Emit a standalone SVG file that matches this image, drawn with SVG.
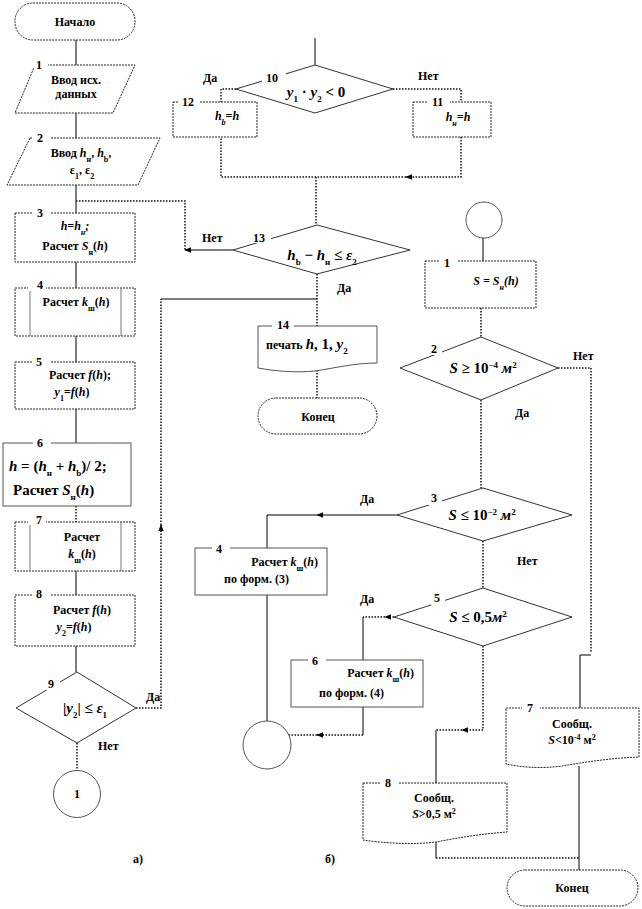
<svg xmlns="http://www.w3.org/2000/svg" width="642" height="909" viewBox="0 0 642 909">
<style>
text{font-family:"Liberation Serif","Times New Roman",serif;font-weight:bold;font-size:12px;fill:#000}
.c{text-anchor:middle}
.n{font-size:12px}
.f{font-size:15px}
.i{font-style:italic}
.box{fill:#fff;stroke:#222;stroke-width:1;stroke-dasharray:2 1}
.sbox{fill:#fff;stroke:#555;stroke-width:1}
.dia{fill:#fff;stroke:#333;stroke-width:1}
.in{stroke:#777;stroke-width:1}
.ln{fill:none;stroke:#000;stroke-width:1}
.dt{fill:none;stroke:#111;stroke-width:1.5;stroke-dasharray:1.5 1.5}
.gap{fill:#fff}
</style>
<defs>
<marker id="ah" viewBox="0 0 10 10" refX="9" refY="5" markerWidth="7" markerHeight="7" markerUnits="userSpaceOnUse" orient="auto"><path d="M0,1 L10,5 L0,9 z" fill="#000"/></marker>
</defs>

<g id="connectors">
<path class="ln" d="M76,40 V65"/>
<path class="ln" d="M76,113 V138"/>
<path class="ln" d="M76,185 V213"/>
<path class="dt" d="M76,201 H185 V250"/>
<path class="ln" d="M233,250 H185" marker-end="url(#ah)"/>
<path class="ln" d="M76,262 V288"/>
<path class="ln" d="M76,336 V362"/>
<path class="ln" d="M76,409 V443"/>
<path class="dt" d="M76,506 V522"/>
<path class="ln" d="M76,571 V595"/>
<path class="ln" d="M76,646 V672"/>
<path class="dt" d="M77,743 V770"/>
<path class="dt" d="M136,708 H161 V525" marker-end="url(#ah)"/>
<path class="dt" d="M161,525 V299"/>
<path class="ln" d="M161,299 H317"/>

<path class="ln" d="M315,38 V65"/>
<path class="dt" d="M236,89 H221 V102"/>
<path class="dt" d="M393,89 H461 V102"/>
<path class="dt" d="M461,137 V177 H406" marker-end="url(#ah)"/>
<path class="dt" d="M406,177 H221 V137"/>
<path class="dt" d="M316,177 V225"/>
<path class="dt" d="M317,274 V326"/>
<path class="dt" d="M317,370 V398"/>

<path class="ln" d="M483,238 V261"/>
<path class="dt" d="M481,308 V337"/>
<path class="dt" d="M558,368 H591 V653"/>
<path class="ln" d="M591,655 H580 V708"/>
<path class="dt" d="M481,400 V488"/>
<path class="ln" d="M397,515 H317" marker-end="url(#ah)"/>
<path class="ln" d="M317,515 H267 V548"/>
<path class="dt" d="M483,541 V588"/>
<path class="dt" d="M394,617 H385" marker-end="url(#ah)"/>
<path class="dt" d="M385,617 H363"/>
<path class="ln" d="M363,617 V660"/>
<path class="ln" d="M363,707 V735"/>
<path class="dt" d="M363,735 H317" marker-end="url(#ah)"/>
<path class="dt" d="M317,735 H267"/>
<path class="ln" d="M267,595 V721"/>
<path class="dt" d="M483,646 V730 H462" marker-end="url(#ah)"/>
<path class="dt" d="M462,730 H436"/>
<path class="ln" d="M436,730 V783"/>
<path class="ln" d="M436,841 V858"/>
<path class="dt" d="M436,858 H579"/>
<path class="ln" d="M579,766 V870"/>
</g>

<g id="start">
<rect class="box" x="15" y="3" width="120" height="37" rx="18"/>
<text class="c" x="75" y="26">Начало</text>
</g>

<g id="n1">
<polygon class="box" points="35,65 135,65 113,113 15,113"/>
<rect class="gap" x="32" y="62" width="16" height="6"/>
<text class="n" x="36" y="69">1</text>
<text class="c" x="76" y="84">Ввод исх.</text>
<text class="c" x="76" y="98">данных</text>
</g>

<g id="n2">
<polygon class="box" points="30,138 160,138 138,185 7,185"/>
<rect class="gap" x="32" y="135" width="18" height="6"/>
<text class="n" x="37" y="142">2</text>
<text class="c" x="81" y="157">Ввод  <tspan class="i">h</tspan><tspan font-size="8" baseline-shift="sub">н</tspan>, <tspan class="i">h</tspan><tspan font-size="8" baseline-shift="sub">b</tspan>,</text>
<text class="c" x="82" y="174">ε<tspan font-size="8" baseline-shift="sub">1</tspan>, ε<tspan font-size="8" baseline-shift="sub">2</tspan></text>
</g>

<g id="n3">
<rect class="box" x="15" y="213" width="120" height="49"/>
<rect class="gap" x="33" y="210" width="18" height="6"/>
<text class="n" x="37" y="217">3</text>
<text class="c i" x="75" y="230">h=h<tspan font-size="8" baseline-shift="sub">н</tspan>;</text>
<text class="c" x="75" y="250">Расчет <tspan class="i">S</tspan><tspan font-size="8" baseline-shift="sub">н</tspan>(<tspan class="i">h</tspan>)</text>
</g>

<g id="n4">
<rect class="box" x="15" y="288" width="120" height="48"/>
<line class="in" x1="30" y1="288" x2="30" y2="336"/>
<line class="in" x1="121" y1="288" x2="121" y2="336"/>
<rect class="gap" x="28" y="285" width="18" height="6"/>
<text class="n" x="37" y="289">4</text>
<text class="c" x="76" y="306">Расчет <tspan class="i">k</tspan><tspan font-size="8" baseline-shift="sub">ш</tspan>(<tspan class="i">h</tspan>)</text>
</g>

<g id="n5">
<rect class="box" x="15" y="362" width="120" height="47"/>
<rect class="gap" x="32" y="359" width="18" height="6"/>
<text class="n" x="36" y="366">5</text>
<text class="c" x="80" y="379">Расчет <tspan class="i">f</tspan>(<tspan class="i">h</tspan>);</text>
<text class="c" x="72" y="396"><tspan class="i">y</tspan><tspan font-size="8" baseline-shift="sub">1</tspan>=<tspan class="i">f</tspan>(<tspan class="i">h</tspan>)</text>
</g>

<g id="n6">
<rect class="sbox" x="3" y="443" width="128" height="63"/>
<rect class="gap" x="33" y="440" width="18" height="6"/>
<text class="n" x="37" y="447">6</text>
<text class="f" x="9" y="471"><tspan class="i">h</tspan> = (<tspan class="i">h</tspan><tspan font-size="9" baseline-shift="sub">н</tspan> + <tspan class="i">h</tspan><tspan font-size="9" baseline-shift="sub">b</tspan>)/ 2;</text>
<text class="f" x="13" y="495">Расчет <tspan class="i">S</tspan><tspan font-size="9" baseline-shift="sub">н</tspan>(<tspan class="i">h</tspan>)</text>
</g>

<g id="n7">
<rect class="box" x="15" y="522" width="120" height="49"/>
<line class="in" x1="30" y1="522" x2="30" y2="571"/>
<line class="in" x1="121" y1="522" x2="121" y2="571"/>
<rect class="gap" x="28" y="519" width="18" height="6"/>
<text class="n" x="36" y="524">7</text>
<text class="c" x="82" y="541">Расчет</text>
<text class="c" x="82" y="558"><tspan class="i">k</tspan><tspan font-size="8" baseline-shift="sub">ш</tspan>(<tspan class="i">h</tspan>)</text>
</g>

<g id="n8">
<rect class="box" x="15" y="595" width="120" height="51"/>
<rect class="gap" x="32" y="592" width="18" height="6"/>
<text class="n" x="36" y="598">8</text>
<text class="c" x="82" y="614">Расчет <tspan class="i">f</tspan>(<tspan class="i">h</tspan>)</text>
<text class="c" x="74" y="631"><tspan class="i">y</tspan><tspan font-size="8" baseline-shift="sub">2</tspan>=<tspan class="i">f</tspan>(<tspan class="i">h</tspan>)</text>
</g>

<g id="n9">
<polygon class="dia" points="77,672 136,708 77,743 16,708"/>
<rect class="gap" x="44" y="676" width="16" height="14"/>
<text class="n" x="48" y="688">9</text>
<text class="c f" x="85" y="713">|<tspan class="i">y</tspan><tspan font-size="9" baseline-shift="sub">2</tspan>| ≤ <tspan class="i">ε</tspan><tspan font-size="9" baseline-shift="sub">1</tspan></text>
<text x="146" y="701">Да</text>
<text x="98" y="750">Нет</text>
</g>

<g id="c1">
<circle class="sbox" cx="77" cy="794" r="23.5"/>
<text class="c n" x="77" y="798">1</text>
</g>

<g id="n10">
<polygon class="dia" points="315,65 393,89 315,113 236,89"/>
<rect class="gap" x="262" y="70" width="24" height="13"/>
<text class="n" x="266" y="82">10</text>
<text class="c f" x="316" y="97"><tspan class="i">y</tspan><tspan font-size="9" baseline-shift="sub">1</tspan> · <tspan class="i">y</tspan><tspan font-size="9" baseline-shift="sub">2</tspan> &lt; 0</text>
<text x="203" y="82">Да</text>
<text x="418" y="80">Нет</text>
</g>

<g id="n12">
<rect class="box" x="173" y="102" width="84" height="35"/>
<rect class="gap" x="178" y="99" width="22" height="6"/>
<text class="n" x="182" y="106">12</text>
<text class="c i" x="227" y="120">h<tspan font-size="8" baseline-shift="sub">b</tspan>=h</text>
</g>

<g id="n11">
<rect class="box" x="413" y="102" width="78" height="35"/>
<rect class="gap" x="428" y="99" width="22" height="6"/>
<text class="n" x="432" y="106">11</text>
<text class="c i" x="458" y="121">h<tspan font-size="8" baseline-shift="sub">н</tspan>=h</text>
</g>

<g id="n13">
<polygon class="dia" points="317,225 410,250 317,274 233,250"/>
<rect class="gap" x="249" y="230" width="22" height="13"/>
<text class="n" x="253" y="242">13</text>
<text class="c f" x="322" y="260"><tspan class="i">h</tspan><tspan font-size="9" baseline-shift="sub">b</tspan> − <tspan class="i">h</tspan><tspan font-size="9" baseline-shift="sub">н</tspan> ≤ <tspan class="i">ε</tspan><tspan font-size="9" baseline-shift="sub">2</tspan></text>
<text x="202" y="242">Нет</text>
<text x="337" y="292">Да</text>
</g>

<g id="n14">
<path class="sbox" d="M258,326 H377 V363 C355,363 335,368 315,371 C295,373 275,371 258,368 Z"/>
<rect class="gap" x="272" y="323" width="22" height="6"/>
<text class="n" x="277" y="329">14</text>
<text x="266" y="349">печать <tspan class="f i">h</tspan><tspan class="f">, 1, </tspan><tspan class="f i">y</tspan><tspan font-size="9" baseline-shift="sub">2</tspan></text>
</g>

<g id="end1">
<rect class="box" x="258" y="398" width="119" height="36" rx="18"/>
<text class="c" x="318" y="421">Конец</text>
</g>

<g id="cb">
<circle class="sbox" cx="484" cy="220" r="18"/>
</g>

<g id="b1">
<rect class="box" x="425" y="261" width="111" height="47"/>
<rect class="gap" x="440" y="258" width="18" height="6"/>
<text class="n" x="444" y="267">1</text>
<text class="c i" x="496" y="285" font-size="13">S = S<tspan font-size="8" baseline-shift="sub">н</tspan>(h)</text>
</g>

<g id="b2">
<polygon class="dia" points="481,337 558,368 481,400 400,368"/>
<rect class="gap" x="428" y="341" width="14" height="14"/>
<text class="n" x="431" y="353">2</text>
<text class="c f" x="483" y="373"><tspan class="i">S</tspan> ≥ 10<tspan font-size="9" baseline-shift="super">−4</tspan> <tspan class="i">м</tspan><tspan font-size="9" baseline-shift="super">2</tspan></text>
<text x="573" y="360">Нет</text>
<text x="515" y="417">Да</text>
</g>

<g id="b3">
<polygon class="dia" points="483,488 572,515 483,541 397,515"/>
<rect class="gap" x="428" y="491" width="14" height="14"/>
<text class="n" x="431" y="502">3</text>
<text class="c f" x="482" y="520"><tspan class="i">S</tspan> ≤ 10<tspan font-size="9" baseline-shift="super">−2</tspan> <tspan class="i">м</tspan><tspan font-size="9" baseline-shift="super">2</tspan></text>
<text x="360" y="503">Да</text>
<text x="517" y="565">Нет</text>
</g>

<g id="b4">
<rect class="sbox" x="195" y="548" width="132" height="47"/>
<rect class="gap" x="212" y="545" width="18" height="6"/>
<text class="n" x="216" y="553">4</text>
<text x="318" y="566" text-anchor="end">Расчет <tspan class="i">k</tspan><tspan font-size="8" baseline-shift="sub">ш</tspan>(<tspan class="i">h</tspan>)</text>
<text x="224" y="583">по форм. (3)</text>
</g>

<g id="b5">
<polygon class="dia" points="483,588 572,617 483,646 394,617"/>
<rect class="gap" x="431" y="591" width="14" height="14"/>
<text class="n" x="434" y="602">5</text>
<text class="c f" x="478" y="622"><tspan class="i">S</tspan> ≤ 0,5<tspan class="i">м</tspan><tspan font-size="9" baseline-shift="super">2</tspan></text>
<text x="360" y="603">Да</text>
</g>

<g id="b6">
<rect class="sbox" x="291" y="660" width="132" height="47"/>
<rect class="gap" x="308" y="657" width="18" height="6"/>
<text class="n" x="312" y="665">6</text>
<text x="414" y="677" text-anchor="end">Расчет <tspan class="i">k</tspan><tspan font-size="8" baseline-shift="sub">ш</tspan>(<tspan class="i">h</tspan>)</text>
<text x="319" y="697">по форм. (4)</text>
</g>

<g id="cb2">
<circle class="sbox" cx="267" cy="745" r="24"/>
</g>

<g id="b7">
<path class="box" d="M506,708 H639 V757 C612,758 585,762 562,766 C540,769 520,767 506,764 Z"/>
<rect class="gap" x="522" y="705" width="18" height="6"/>
<text class="n" x="527" y="712">7</text>
<text class="c" x="572" y="728">Сообщ.</text>
<text class="c" x="572" y="744"><tspan class="i">S</tspan>&lt;10<tspan font-size="8" baseline-shift="super">-4</tspan> м<tspan font-size="8" baseline-shift="super">2</tspan></text>
</g>

<g id="b8">
<path class="box" d="M363,783 H507 V832 C480,834 457,838 436,842 C412,845 383,843 363,840 Z"/>
<rect class="gap" x="381" y="780" width="18" height="6"/>
<text class="n" x="385" y="787">8</text>
<text class="c" x="434" y="802">Сообщ.</text>
<text class="c" x="434" y="818"><tspan class="i">S</tspan>&gt;0,5 м<tspan font-size="8" baseline-shift="super">2</tspan></text>
</g>

<g id="end2">
<rect class="box" x="507" y="870" width="131" height="36" rx="18"/>
<text class="c" x="572" y="892">Конец</text>
</g>

<g id="labels">
<text x="133" y="863">а)</text>
<text x="325" y="863">б)</text>
</g>
</svg>
